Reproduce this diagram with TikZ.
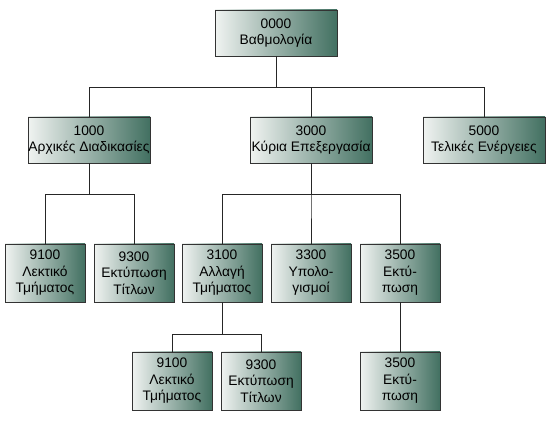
\documentclass[tikz,border=0pt]{standalone}
\usepackage{fontspec}
\setmainfont{Liberation Sans}
\definecolor{boxlight}{RGB}{240,243,241}
\definecolor{boxmid}{RGB}{170,194,184}
\definecolor{boxdark}{RGB}{66,112,97}
\begin{document}
\begin{tikzpicture}[x=1pt, y=-1pt,
  box/.style={draw=black!80, line width=0.9pt, left color=boxlight,
    middle color=boxmid, right color=boxdark, align=center, inner sep=0pt,
    font=\fontsize{13.8}{16.5}\selectfont},
  wide/.style={box, minimum width=122pt, minimum height=46pt},
  narrow/.style={box, minimum width=80pt, minimum height=58pt},
  link/.style={line width=0.8pt, black!85}]
  \useasboundingbox (0,0) rectangle (550,427);
  \def\rTop{33} \def\rOne{140} \def\rTwo{273} \def\rThree{381}
  \def\busA{87} \def\busB{194} \def\busC{334}
  % top level
  \node[wide] (n0000) at (276,\rTop) {0000\\Βαθμολογία};
  \node[wide] (n1000) at (89,\rOne) {1000\\Αρχικές Διαδικασίες};
  \node[wide] (n3000) at (311,\rOne) {3000\\Κύρια Επεξεργασία};
  \node[wide] (n5000) at (484,\rOne) {5000\\Τελικές Ενέργειες};
  % second level
  \node[narrow] (n9100a) at (45,\rTwo) {9100\\Λεκτικό\\Τμήματος};
  \node[narrow] (n9300a) at (134,\rTwo) {9300\\Εκτύπωση\\Τίτλων};
  \node[narrow] (n3100) at (222,\rTwo) {3100\\Αλλαγή\\Τμήματος};
  \node[narrow] (n3300) at (311,\rTwo) {3300\\Υπολο-\\γισμοί};
  \node[narrow] (n3500a) at (400,\rTwo) {3500\\Εκτύ-\\πωση};
  % third level
  \node[narrow] (n9100b) at (172,\rThree) {9100\\Λεκτικό\\Τμήματος};
  \node[narrow] (n9300b) at (261,\rThree) {9300\\Εκτύπωση\\Τίτλων};
  \node[narrow] (n3500b) at (400,\rThree) {3500\\Εκτύ-\\πωση};
  % connectors
  \foreach \c in {n1000, n3000, n5000} {
    \draw[link] (n0000.south) |- (\c.north |- 0,\busA) -- (\c.north);
  }
  \foreach \c in {n9100a, n9300a} {
    \draw[link] (n1000.south) |- (\c.north |- 0,\busB) -- (\c.north);
  }
  \foreach \c in {n3100, n3300, n3500a} {
    \draw[link] (n3000.south) |- (\c.north |- 0,\busB) -- (\c.north);
  }
  \foreach \c in {n9100b, n9300b} {
    \draw[link] (n3100.south) |- (\c.north |- 0,\busC) -- (\c.north);
  }
  \draw[link] (n3500a.south) -- (n3500b.north);
\end{tikzpicture}
\end{document}
